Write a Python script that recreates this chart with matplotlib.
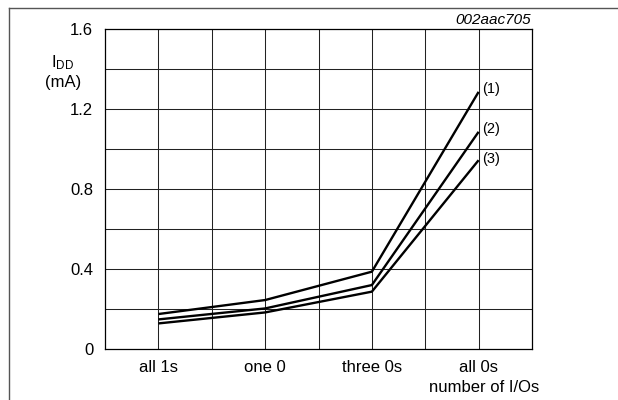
import matplotlib
matplotlib.use("Agg")
import matplotlib.pyplot as plt
from matplotlib.lines import Line2D

plt.rcParams['font.family'] = ['Liberation Sans', 'DejaVu Sans']
plt.rcParams['mathtext.fontset'] = 'custom'
plt.rcParams['mathtext.rm'] = 'Liberation Sans'
plt.rcParams['mathtext.it'] = 'Liberation Sans:italic'

# supply current vs. number of I/Os at logic 0
categories = ['all 1s', 'one 0', 'three 0s', 'all 0s']
cat_pos = [1, 3, 5, 7]
idd_1 = [0.175, 0.245, 0.387, 1.287]
idd_2 = [0.148, 0.203, 0.320, 1.087]
idd_3 = [0.128, 0.183, 0.287, 0.945]
curve_labels = ['(1)', '(2)', '(3)']
label_y = [1.30, 1.10, 0.95]

fig = plt.figure(figsize=(6.18, 4.0), dpi=100)
ax = fig.add_axes([105 / 618, 51 / 400, 427 / 618, 319.7 / 400])

ax.set_xlim(0, 8)
ax.set_ylim(0, 1.6)

# grid: one line per half-category, every 0.2 mA
for x in range(1, 8):
    ax.axvline(x, color='#222222', lw=0.75, zorder=1)
for y in [0.2, 0.4, 0.6, 0.8, 1.0, 1.2, 1.4]:
    ax.axhline(y, color='#222222', lw=0.75, zorder=1)
for s in ax.spines.values():
    s.set_linewidth(0.9)
    s.set_color('black')

for series in (idd_1, idd_2, idd_3):
    ax.plot(cat_pos, series, color='black', lw=1.7, solid_capstyle='butt', zorder=3)

for lab, y in zip(curve_labels, label_y):
    ax.text(7.06, y, lab, fontsize=10.5, ha='left', va='center')

ax.set_xticks(cat_pos)
ax.set_xticklabels(categories, fontsize=12)
ax.set_yticks([0, 0.4, 0.8, 1.2, 1.6])
ax.set_yticklabels(['0', '0.4', '0.8', '1.2', '1.6'], fontsize=12)
ax.tick_params(axis='x', length=0, pad=8)
ax.tick_params(axis='y', length=0, pad=8.5)

fig.text(63 / 618, 1 - 63 / 400, r'I$_{\mathrm{DD}}$', fontsize=12, ha='center', va='center')
fig.text(63 / 618, 1 - 82 / 400, '(mA)', fontsize=12, ha='center', va='center')
fig.text(539 / 618, 1 - 388 / 400, 'number of I/Os', fontsize=12, ha='right', va='center')
fig.text(531 / 618, 1 - 20 / 400, '002aac705', fontsize=11, style='italic', ha='right', va='center')

# frame on the left and top edges
fig.add_artist(Line2D([9 / 618, 9 / 618], [0, 1 - 8 / 400], transform=fig.transFigure,
                      color='#555555', lw=1.0))
fig.add_artist(Line2D([9 / 618, 1], [1 - 8 / 400, 1 - 8 / 400], transform=fig.transFigure,
                      color='#555555', lw=1.0))

fig.savefig('out.png', dpi=100)
